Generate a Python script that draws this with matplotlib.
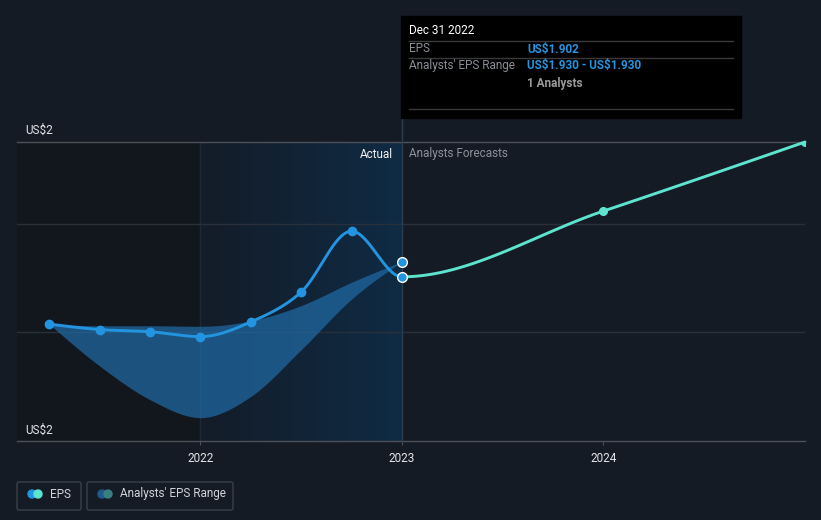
import matplotlib
matplotlib.use('Agg')
import matplotlib.pyplot as plt
from matplotlib.colors import LinearSegmentedColormap
from matplotlib.patches import Rectangle, FancyBboxPatch, Circle
import numpy as np

plt.rcParams['font.family'] = ['Roboto', 'DejaVu Sans']

# EPS history (quarterly) and analyst forecast
eps_x = [2021.25, 2021.5, 2021.75, 2022.0, 2022.25, 2022.5, 2022.75, 2023.0]
eps_y = [1.815, 1.805, 1.801, 1.792, 1.819, 1.874, 1.986, 1.902]
fc_x = [2023.0, 2024.0, 2025.0]
fc_y = [1.902, 2.023, 2.150]

# analysts' EPS range band
rng_x = [2021.25, 2021.5, 2021.75, 2022.0, 2022.25, 2022.5, 2022.75, 2023.0]
rng_lo = [1.815, 1.738, 1.676, 1.643, 1.682, 1.768, 1.861, 1.930]
rng_hi = [1.815, 1.812, 1.812, 1.811, 1.821, 1.849, 1.892, 1.930]

grid_vals = [1.8, 2.0]
xticks = [2022, 2023, 2024]
xtick_labels = ['2022', '2023', '2024']

BG = '#151b25'
BLUE = '#2394df'
TEAL = '#5ee3cf'


def monotone(xs, ys, n=60):
    # monotone cubic (like d3 curveMonotoneX)
    xs = np.asarray(xs, float)
    ys = np.asarray(ys, float)
    h = np.diff(xs)
    s = np.diff(ys) / h
    m = np.zeros(len(xs))
    for k in range(1, len(xs) - 1):
        p = (s[k - 1] * h[k] + s[k] * h[k - 1]) / (h[k - 1] + h[k])
        m[k] = (np.sign(s[k - 1]) + np.sign(s[k])) * min(abs(s[k - 1]), abs(s[k]), 0.5 * abs(p))
    if len(xs) > 2:
        m[0] = (3 * s[0] - m[1]) / 2
        m[-1] = (3 * s[-1] - m[-2]) / 2
    else:
        m[:] = s[0]
    outx, outy = [], []
    for k in range(len(xs) - 1):
        t = np.linspace(0, 1, n)
        h00 = 2 * t**3 - 3 * t**2 + 1
        h10 = t**3 - 2 * t**2 + t
        h01 = -2 * t**3 + 3 * t**2
        h11 = t**3 - t**2
        outx.extend(xs[k] + t * h[k])
        outy.extend(h00 * ys[k] + h10 * h[k] * m[k] + h01 * ys[k + 1] + h11 * h[k] * m[k + 1])
    return np.array(outx), np.array(outy)


W, H = 821, 520
fig = plt.figure(figsize=(W / 100, H / 100), dpi=100, facecolor=BG)
ax = fig.add_axes([17 / W, 1 - 441 / H, (805 - 17) / W, (441 - 142) / H])
ax.set_facecolor(BG)
x0, x1 = 2021.09, 2025.0
y0, y1 = 1.6, 2.15

# background shading
ax.axvspan(x0, 2022, color='#12161d', zorder=0, lw=0)
cmap = LinearSegmentedColormap.from_list('g', ['#141c28', '#0f2b44'])
ax.imshow(np.linspace(0, 1, 256).reshape(1, -1), cmap=cmap, aspect='auto',
          extent=[2022, 2023, y0, y1], zorder=0)
ax.axvline(2022, color='#1c2b3b', lw=1, zorder=1)

for g in grid_vals:
    ax.axhline(g, color='#2a3039', lw=1, zorder=1)

# band
bx, blo = monotone(rng_x, rng_lo)
_, bhi = monotone(rng_x, rng_hi)
ax.fill_between(bx, blo, bhi, color='#1f6aa5', alpha=0.72, lw=0, zorder=2)

# EPS + forecast as one curve
all_x = eps_x + fc_x[1:]
all_y = eps_y + fc_y[1:]
cx, cy = monotone(all_x, all_y)
past = cx <= 2023.0
ax.plot(cx[past], cy[past], color=BLUE, lw=2.1, zorder=4, solid_capstyle='round')
ax.plot(cx[~past], cy[~past], color=TEAL, lw=2.1, zorder=4, solid_capstyle='round', clip_on=False)
ax.plot(eps_x[:-1], eps_y[:-1], 'o', color=BLUE, ms=6, zorder=5)
ax.plot(fc_x[1:], fc_y[1:], 'o', color=TEAL, ms=5.5, zorder=5)
ax.plot([eps_x[-1], rng_x[-1]], [eps_y[-1], rng_hi[-1]], 'o', color=BLUE, ms=7,
        mec='white', mew=1, zorder=6, clip_on=False)

ax.axvline(2023, ymin=0, ymax=(441 - 118) / (441 - 142), color='#2a3d51', lw=1,
           zorder=3, clip_on=False)

ax.set_xlim(x0, x1)
ax.set_ylim(y0, y1)
ax.set_yticks([])
ax.set_xticks(xticks)
ax.set_xticklabels(xtick_labels, color='#e2e4e7', fontsize=8.5)
ax.tick_params(axis='x', length=3, color='#4b5059', pad=5)
for side in ['left', 'right']:
    ax.spines[side].set_visible(False)
for side in ['top', 'bottom']:
    ax.spines[side].set_color('#4b5059')
    ax.spines[side].set_linewidth(1)

# overlay in pixel coords
ov = fig.add_axes([0, 0, 1, 1])
ov.set_xlim(0, W)
ov.set_ylim(H, 0)
ov.axis('off')
ov.patch.set_alpha(0)

ov.text(25, 130, r'US\$2', color='#e2e4e7', fontsize=8.5, va='center')
ov.text(25, 430, r'US\$2', color='#e2e4e7', fontsize=8.5, va='center')
ov.text(393, 154, 'Actual', color='#f0f0f0', fontsize=8.5, va='center', ha='right')
ov.text(409, 154, 'Analysts Forecasts', color='#8c9199', fontsize=8.5, va='center')

# tooltip
ov.add_patch(Rectangle((401, 16), 340, 102, color='#000000', zorder=10))
ov.text(409, 31, 'Dec 31 2022', color='white', fontsize=8.5, va='center', zorder=11)
for yy in [41, 58, 109]:
    ov.plot([409, 733], [yy, yy], color='#3a3a3a', lw=1, zorder=11)
ov.text(409, 49, 'EPS', color='#8a8f96', fontsize=8.5, va='center', zorder=11)
ov.text(527, 49, r'US\$1.902', color=BLUE, fontsize=8.5, va='center', weight='bold', zorder=11)
ov.text(409, 66, "Analysts' EPS Range", color='#8a8f96', fontsize=8.5, va='center', zorder=11)
ov.text(527, 66, r'US\$1.930 - US\$1.930', color=BLUE, fontsize=8.5, va='center',
        weight='bold', zorder=11)
ov.text(527, 83, '1 Analysts', color='#9a9a9a', fontsize=8.5, va='center', weight='bold', zorder=11)

# legend
ov.add_patch(FancyBboxPatch((17, 482), 64, 28, boxstyle='round,pad=0,rounding_size=2',
                            fc='none', ec='#3b414a', lw=1))
ov.add_patch(FancyBboxPatch((87, 482), 146, 28, boxstyle='round,pad=0,rounding_size=2',
                            fc='none', ec='#3b414a', lw=1))
ov.add_patch(Circle((32, 494), 4, color=BLUE))
ov.add_patch(Circle((38, 494), 4, color=TEAL))
ov.text(50, 494, 'EPS', color='#d0d3d8', fontsize=8.5, va='center')
ov.add_patch(Circle((102, 494), 4, color='#1f5a88'))
ov.add_patch(Circle((108, 494), 4, color='#3a7f80'))
ov.text(120, 494, "Analysts' EPS Range", color='#d0d3d8', fontsize=8.5, va='center')

fig.savefig('out.png', dpi=100, facecolor=BG)
